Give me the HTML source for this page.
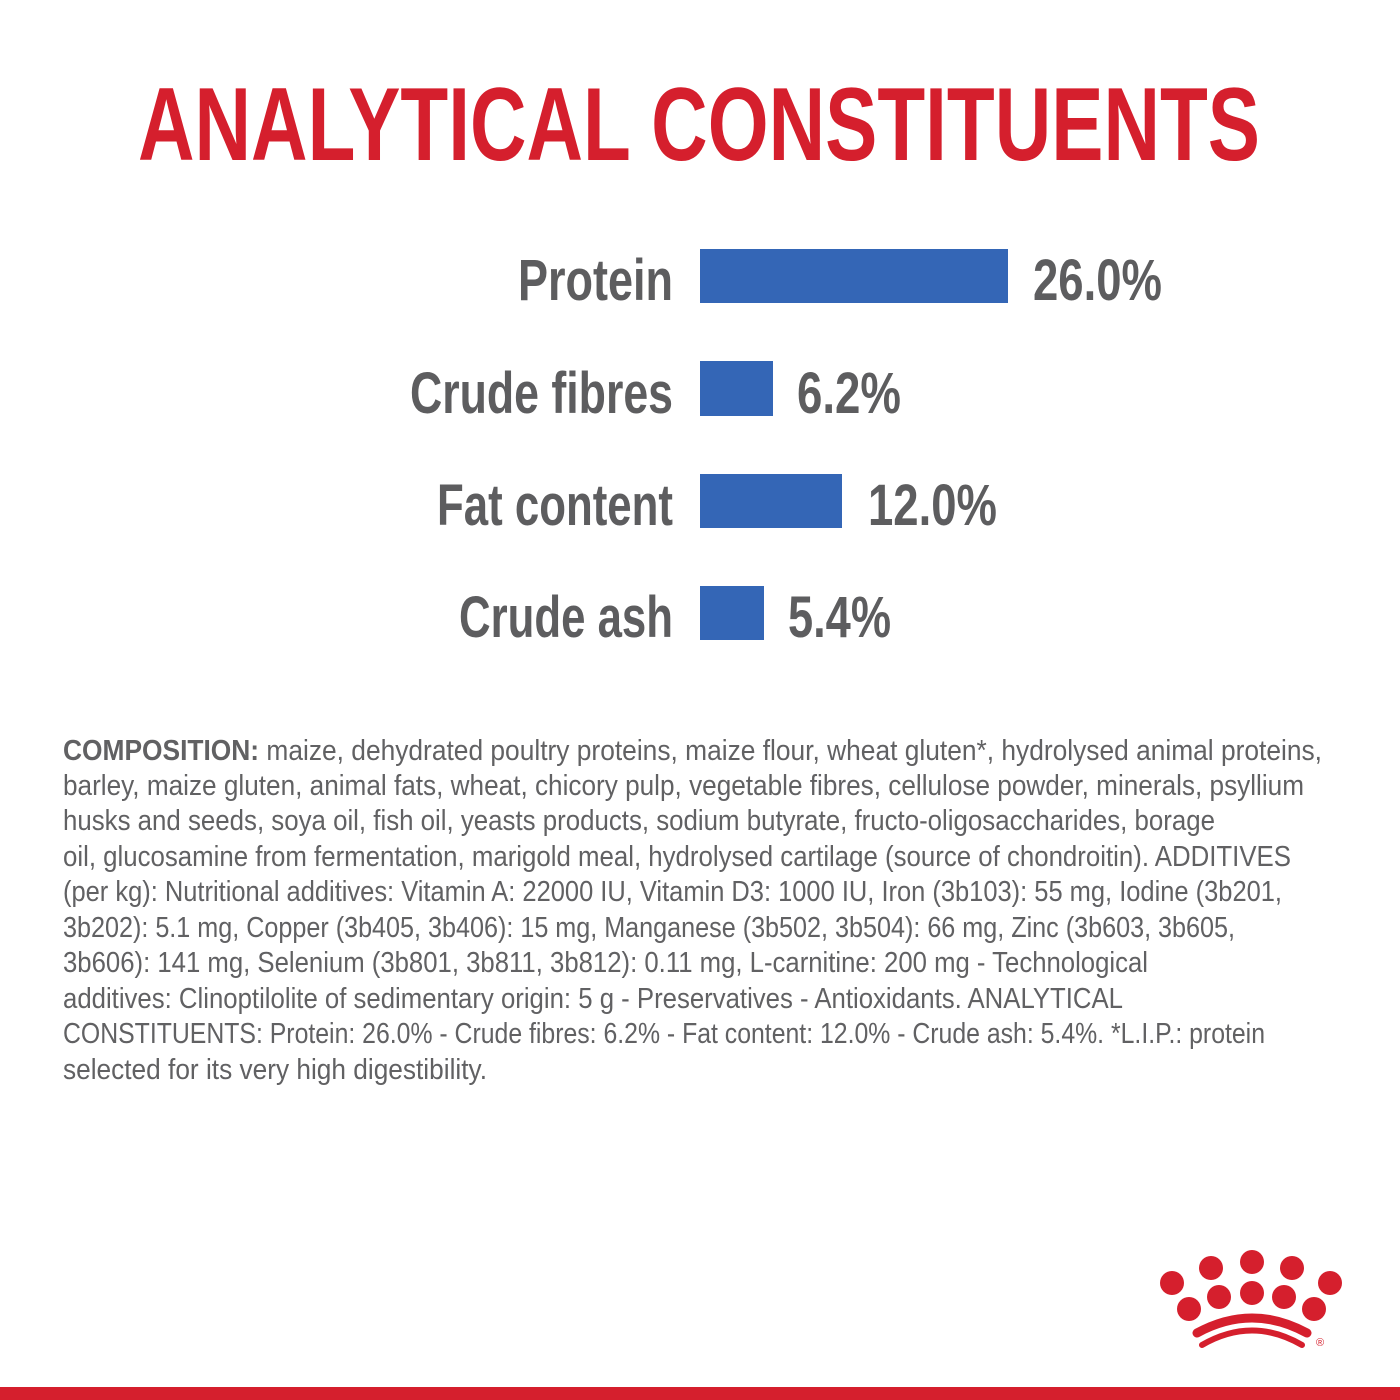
<!DOCTYPE html>
<html><head><meta charset="utf-8"><style>
html,body{margin:0;padding:0;background:#fff;}
svg{display:block}
</style></head><body>
<svg width="1400" height="1400" viewBox="0 0 1400 1400" xmlns="http://www.w3.org/2000/svg" font-family="'Liberation Sans', sans-serif">
<rect width="1400" height="1400" fill="#fff"/>
<text x="138" y="160" font-size="104" font-weight="bold" fill="#d51f2d" textLength="1122" lengthAdjust="spacingAndGlyphs">ANALYTICAL CONSTITUENTS</text>
<g font-weight="bold" fill="#5d5d5f" font-size="58">
<text x="518" y="300" textLength="155" lengthAdjust="spacingAndGlyphs">Protein</text>
<text x="410" y="413" textLength="263" lengthAdjust="spacingAndGlyphs">Crude fibres</text>
<text x="437" y="525" textLength="236" lengthAdjust="spacingAndGlyphs">Fat content</text>
<text x="459" y="637" textLength="214" lengthAdjust="spacingAndGlyphs">Crude ash</text>
<text x="1033" y="300" textLength="129" lengthAdjust="spacingAndGlyphs">26.0%</text>
<text x="797" y="413" textLength="104" lengthAdjust="spacingAndGlyphs">6.2%</text>
<text x="868" y="525" textLength="129" lengthAdjust="spacingAndGlyphs">12.0%</text>
<text x="788" y="637" textLength="103" lengthAdjust="spacingAndGlyphs">5.4%</text>
</g>
<g fill="#3466b6">
<rect x="700" y="249" width="308" height="54"/>
<rect x="700" y="361" width="73" height="55"/>
<rect x="700" y="474" width="142" height="54"/>
<rect x="700" y="586" width="64" height="54"/>
</g>
<g fill="#616163" font-size="29">
<text x="63" y="760" textLength="1259" lengthAdjust="spacingAndGlyphs"><tspan font-weight="bold">COMPOSITION:</tspan> maize, dehydrated poultry proteins, maize flour, wheat gluten*, hydrolysed animal proteins,</text>
<text x="63" y="795" textLength="1241" lengthAdjust="spacingAndGlyphs">barley, maize gluten, animal fats, wheat, chicory pulp, vegetable fibres, cellulose powder, minerals, psyllium</text>
<text x="63" y="830" textLength="1152" lengthAdjust="spacingAndGlyphs">husks and seeds, soya oil, fish oil, yeasts products, sodium butyrate, fructo-oligosaccharides, borage</text>
<text x="63" y="866" textLength="1228" lengthAdjust="spacingAndGlyphs">oil, glucosamine from fermentation, marigold meal, hydrolysed cartilage (source of chondroitin). ADDITIVES</text>
<text x="63" y="901" textLength="1219" lengthAdjust="spacingAndGlyphs">(per kg): Nutritional additives: Vitamin A: 22000 IU, Vitamin D3: 1000 IU, Iron (3b103): 55 mg, Iodine (3b201,</text>
<text x="63" y="937" textLength="1172" lengthAdjust="spacingAndGlyphs">3b202): 5.1 mg, Copper (3b405, 3b406): 15 mg, Manganese (3b502, 3b504): 66 mg, Zinc (3b603, 3b605,</text>
<text x="63" y="972" textLength="1085" lengthAdjust="spacingAndGlyphs">3b606): 141 mg, Selenium (3b801, 3b811, 3b812): 0.11 mg, L-carnitine: 200 mg - Technological</text>
<text x="63" y="1008" textLength="1060" lengthAdjust="spacingAndGlyphs">additives: Clinoptilolite of sedimentary origin: 5 g - Preservatives - Antioxidants. ANALYTICAL</text>
<text x="63" y="1043" textLength="1202" lengthAdjust="spacingAndGlyphs">CONSTITUENTS: Protein: 26.0% - Crude fibres: 6.2% - Fat content: 12.0% - Crude ash: 5.4%. *L.I.P.: protein</text>
<text x="63" y="1079" textLength="424" lengthAdjust="spacingAndGlyphs">selected for its very high digestibility.</text>
</g>
<g fill="#d51f2d">
<circle cx="1172" cy="1283" r="12"/><circle cx="1211" cy="1268" r="12"/><circle cx="1252" cy="1262" r="12"/><circle cx="1292" cy="1268" r="12"/><circle cx="1330" cy="1283" r="12"/>
<circle cx="1189" cy="1309" r="12"/><circle cx="1219" cy="1297" r="12"/><circle cx="1252" cy="1293" r="12"/><circle cx="1284" cy="1297" r="12"/><circle cx="1314" cy="1309" r="12"/>
<text x="1320" y="1346" font-size="11" text-anchor="middle">®</text>
<rect x="0" y="1387" width="1400" height="13"/>
</g>
<g fill="none" stroke="#d51f2d" stroke-linecap="round">
<path d="M1197 1333 Q1252 1303 1307 1333" stroke-width="9"/>
<path d="M1202 1345 Q1252 1316 1302 1345" stroke-width="6"/>
</g>
</svg>
</body></html>
